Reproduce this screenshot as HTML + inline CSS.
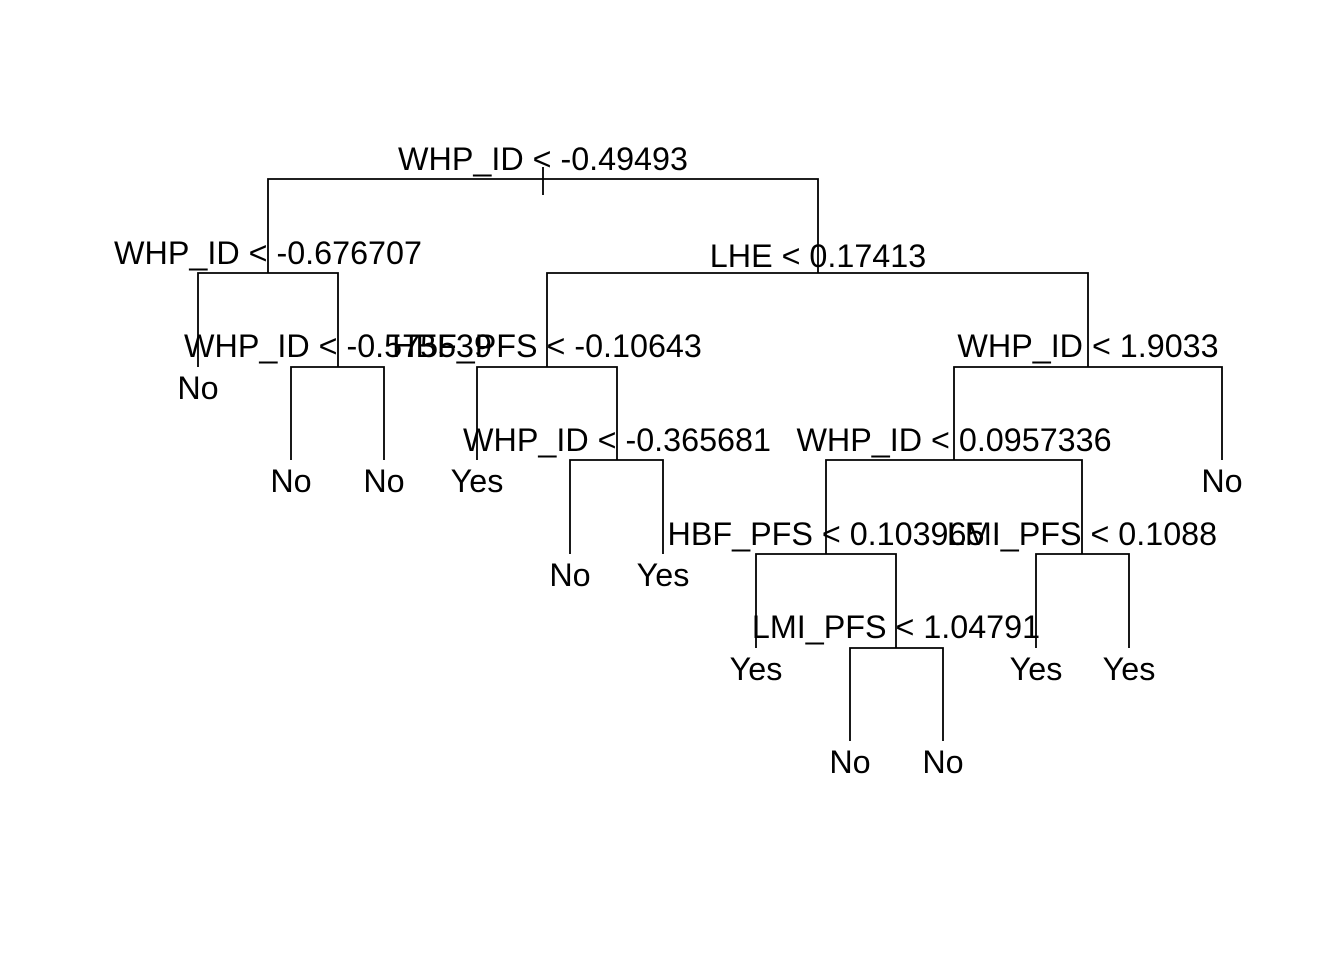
<!DOCTYPE html>
<html><head><meta charset="utf-8"><style>
html,body{margin:0;padding:0;background:#fff}
svg{display:block}
text{font-family:"Liberation Sans",Arial,sans-serif;font-size:32.3px;fill:#000;text-anchor:middle}
</style></head><body>
<svg width="1344" height="960" viewBox="0 0 1344 960">
<g stroke="#000" stroke-width="1.8" fill="none">
<line x1="543" y1="167" x2="543" y2="195"/>
<polyline points="268,273 268,179 818,179 818,273"/>
<polyline points="198,367 198,273 338,273 338,367"/>
<polyline points="291,460 291,367 384,367 384,460"/>
<polyline points="547,367 547,273 1088,273 1088,367"/>
<polyline points="477,460 477,367 617,367 617,460"/>
<polyline points="570,554 570,460 663,460 663,554"/>
<polyline points="954,460 954,367 1222,367 1222,460"/>
<polyline points="826,554 826,460 1082,460 1082,554"/>
<polyline points="756,648 756,554 896,554 896,648"/>
<polyline points="850,741 850,648 943,648 943,741"/>
<polyline points="1036,648 1036,554 1129,554 1129,648"/>
</g>
<text x="543" y="170">WHP_ID &lt; -0.49493</text>
<text x="268" y="264">WHP_ID &lt; -0.676707</text>
<text x="818" y="267">LHE &lt; 0.17413</text>
<text x="338" y="357">WHP_ID &lt; -0.575539</text>
<text x="547" y="357">HBF_PFS &lt; -0.10643</text>
<text x="1088" y="357">WHP_ID &lt; 1.9033</text>
<text x="617" y="451">WHP_ID &lt; -0.365681</text>
<text x="954" y="451">WHP_ID &lt; 0.0957336</text>
<text x="826" y="545">HBF_PFS &lt; 0.103965</text>
<text x="1082" y="545">LMI_PFS &lt; 0.1088</text>
<text x="896" y="638">LMI_PFS &lt; 1.04791</text>
<text x="198" y="399">No</text>
<text x="291" y="492">No</text>
<text x="384" y="492">No</text>
<text x="477" y="492">Yes</text>
<text x="1222" y="492">No</text>
<text x="570" y="586">No</text>
<text x="663" y="586">Yes</text>
<text x="756" y="680">Yes</text>
<text x="1036" y="680">Yes</text>
<text x="1129" y="680">Yes</text>
<text x="850" y="773">No</text>
<text x="943" y="773">No</text>
</svg>
</body></html>
